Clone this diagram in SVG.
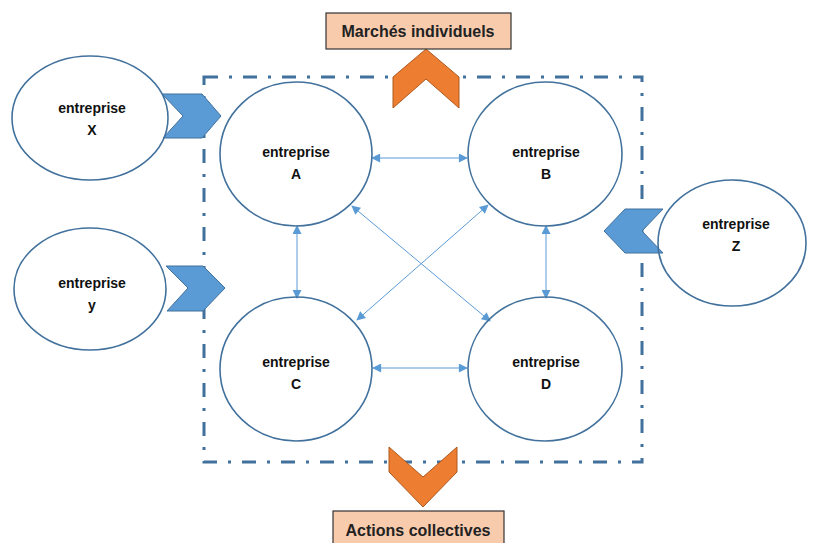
<svg xmlns="http://www.w3.org/2000/svg" width="822" height="543" viewBox="0 0 822 543">
  <style>
    .node { fill: none; stroke: #41719C; stroke-width: 1.6; }
    .lbl { font-family: "Liberation Sans", Arial, sans-serif; font-weight: bold; font-size: 14px; fill: #111; text-anchor: middle; }
    .blue { fill: #5B9BD5; stroke: #41719C; stroke-width: 1; }
    .orange { fill: #ED7D31; stroke: #AE5A21; stroke-width: 1; }
    .box { fill: #F8CBAD; stroke: #333; stroke-width: 1.2; }
    .boxlbl { font-family: "Liberation Sans", Arial, sans-serif; font-weight: bold; font-size: 16px; fill: #222; text-anchor: middle; }
    .link { stroke: #5B9BD5; stroke-width: 1; fill: none; marker-start: url(#ah); marker-end: url(#ah); }
  </style>
  <defs>
    <marker id="ah" viewBox="0 0 10 10" refX="9" refY="5" markerWidth="10" markerHeight="9" markerUnits="userSpaceOnUse" orient="auto-start-reverse">
      <path d="M0,0 L10,5 L0,10 z" fill="#5B9BD5"/>
    </marker>
  </defs>

  <!-- cluster boundary -->
  <rect id="cluster" x="204" y="77" width="438" height="385" fill="none" stroke="#41719C" stroke-width="3" stroke-dasharray="14 11 3 11"/>

  <!-- inflow / outflow chevrons -->
  <g id="flows">
    <polygon class="blue" points="162,94 202,94 221,116 202,138 163,138 183,116"/>
    <polygon class="blue" points="166,266 203,266 225,288 203,311 167,311 188,288"/>
    <polygon class="blue" points="663,209 625,209 604,231 625,253 663,253 642,231"/>
    <polygon class="orange" points="426,49 459,77 459,108 426,79 393,108 393,77"/>
    <polygon class="orange" points="389,447 423,477 457,447 457,472 423,507 389,472"/>
  </g>

  <!-- links between member firms -->
  <g id="connectors">
    <line class="link" x1="372" y1="158" x2="467" y2="158"/>
    <line class="link" x1="373" y1="368" x2="467" y2="368"/>
    <line class="link" x1="297" y1="226" x2="297" y2="298"/>
    <line class="link" x1="546" y1="226" x2="546" y2="298"/>
    <line class="link" x1="352" y1="206" x2="490" y2="321"/>
    <line class="link" x1="488" y1="205" x2="357" y2="320"/>
  </g>

  <g id="node-x">
    <ellipse class="node" cx="90" cy="118" rx="78" ry="62"/>
    <text class="lbl" x="92" y="113">entreprise</text>
    <text class="lbl" x="92" y="135">X</text>
  </g>
  <g id="node-y">
    <ellipse class="node" cx="90" cy="289" rx="76" ry="61"/>
    <text class="lbl" x="92" y="288">entreprise</text>
    <text class="lbl" x="92" y="310">y</text>
  </g>
  <g id="node-a">
    <ellipse class="node" cx="296" cy="154" rx="76" ry="72"/>
    <text class="lbl" x="296" y="157">entreprise</text>
    <text class="lbl" x="296" y="179">A</text>
  </g>
  <g id="node-b">
    <ellipse class="node" cx="545" cy="154" rx="77" ry="72"/>
    <text class="lbl" x="546" y="157">entreprise</text>
    <text class="lbl" x="546" y="179">B</text>
  </g>
  <g id="node-c">
    <ellipse class="node" cx="296" cy="369" rx="76" ry="72"/>
    <text class="lbl" x="296" y="367">entreprise</text>
    <text class="lbl" x="296" y="389">C</text>
  </g>
  <g id="node-d">
    <ellipse class="node" cx="545" cy="369" rx="77" ry="72"/>
    <text class="lbl" x="546" y="367">entreprise</text>
    <text class="lbl" x="546" y="389">D</text>
  </g>
  <g id="node-z">
    <ellipse class="node" cx="732" cy="243" rx="74" ry="63"/>
    <text class="lbl" x="736" y="229">entreprise</text>
    <text class="lbl" x="736" y="251">Z</text>
  </g>

  <g id="label-top">
    <rect class="box" x="326" y="13" width="185" height="36"/>
    <text class="boxlbl" x="418" y="37">Marchés individuels</text>
  </g>
  <g id="label-bottom">
    <rect class="box" x="333" y="511" width="171" height="40"/>
    <text class="boxlbl" x="418" y="536">Actions collectives</text>
  </g>
</svg>
